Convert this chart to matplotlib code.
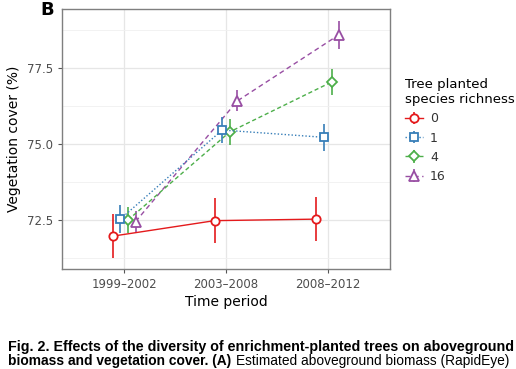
import matplotlib
matplotlib.use("Agg")
import matplotlib.pyplot as plt
import numpy as np

# data
periods = ["1999\u20132002", "2003\u20132008", "2008\u20132012"]
richness = ["0", "1", "4", "16"]
cover_0 = [71.97, 72.48, 72.53]
err_0 = [0.72, 0.74, 0.73]
cover_1 = [72.53, 75.46, 75.22]
err_1 = [0.45, 0.43, 0.44]
cover_4 = [72.50, 75.40, 77.04]
err_4 = [0.43, 0.43, 0.44]
cover_16 = [72.45, 76.42, 78.60]
err_16 = [0.34, 0.35, 0.46]

colors = ["#E41A1C", "#377EB8", "#4DAF4A", "#984EA3"]
markers = ["o", "s", "D", "^"]
styles = ["-", (0, (1, 1.5)), (0, (3, 2)), (0, (3.5, 2.5))]
msizes = [6, 5.5, 5, 6.5]

fig = plt.figure(figsize=(5.16, 3.69), dpi=100)
ax = fig.add_axes([62/516, 1-269/369, 328/516, 260/369])

x = np.arange(1, len(periods)+1)
dodge = [-0.1125, -0.0375, 0.0375, 0.1125]
series = [(cover_0, err_0), (cover_1, err_1), (cover_4, err_4), (cover_16, err_16)]
handles = []
for i, (y, e) in enumerate(series):
    h = ax.errorbar(x + dodge[i], y, yerr=e, color=colors[i], ls=styles[i], lw=1.0,
                    elinewidth=1.2, capsize=0, marker=markers[i], ms=msizes[i],
                    mfc="white", mec=colors[i], mew=1.3, zorder=5 - i, label=richness[i])
    handles.append(h)

ax.set_xlim(0.39, 3.61)
ax.set_ylim(70.89, 79.44)
ax.set_xticks(x)
ax.set_xticklabels(periods)
ax.set_yticks([72.5, 75.0, 77.5])
ax.set_yticks([71.25, 73.75, 76.25, 78.75], minor=True)
ax.grid(True, which="major", color="#E6E6E6", lw=0.9)
ax.grid(True, which="minor", axis="y", color="#F0F0F0", lw=0.6)
ax.set_axisbelow(True)
for s in ax.spines.values():
    s.set_color("#7F7F7F")
    s.set_linewidth(1.0)
ax.tick_params(which="major", length=3, color="#555555", labelcolor="#4D4D4D", labelsize=8.5)
ax.tick_params(which="minor", length=0)
ax.set_xlabel("Time period", fontsize=10, labelpad=3)
ax.set_ylabel("Vegetation cover (%)", fontsize=10, labelpad=4)

leg = fig.legend(handles=handles, labels=richness, title="Tree planted\nspecies richness",
                 loc="upper left", bbox_to_anchor=(400/516, 1-73/369), frameon=False,
                 fontsize=9, title_fontsize=9.5, alignment="left", handlelength=1.4,
                 handletextpad=0.6, labelspacing=0.5, borderaxespad=0)
for t in leg.get_texts():
    t.set_color("#333333")

fig.text(40/516, 1-10/369, "B", fontsize=13, fontweight="bold", va="center")

# caption below the chart, each line squeezed to the page width
fig.canvas.draw()
r = fig.canvas.get_renderer()
cap = "Liberation Sans"
x0 = 8/516
t1 = fig.text(x0, 1-347/369, "Fig. 2. Effects of the diversity of enrichment-planted trees on aboveground",
              fontsize=10, fontweight="bold", family=cap, va="center")
w = t1.get_window_extent(r).width
fs = 10 * 506 / w
t1.set_fontsize(fs)

t2 = fig.text(x0, 1-361/369, "biomass and vegetation cover. (A)", fontsize=10,
              fontweight="bold", family=cap, va="center")
t3 = fig.text(x0, 1-361/369, "Estimated aboveground biomass (RapidEye)",
              fontsize=10, family=cap, va="center")
wa = t2.get_window_extent(r).width
wb = t3.get_window_extent(r).width
fs2 = min(fs, 10 * 502 / (wa + wb + 3.5))
t2.set_fontsize(fs2)
t3.set_fontsize(fs2)
t3.set_x(x0 + (wa * fs2 / 10 + fs2 * 0.4) / 516)

fig.savefig("out.png", dpi=100)
